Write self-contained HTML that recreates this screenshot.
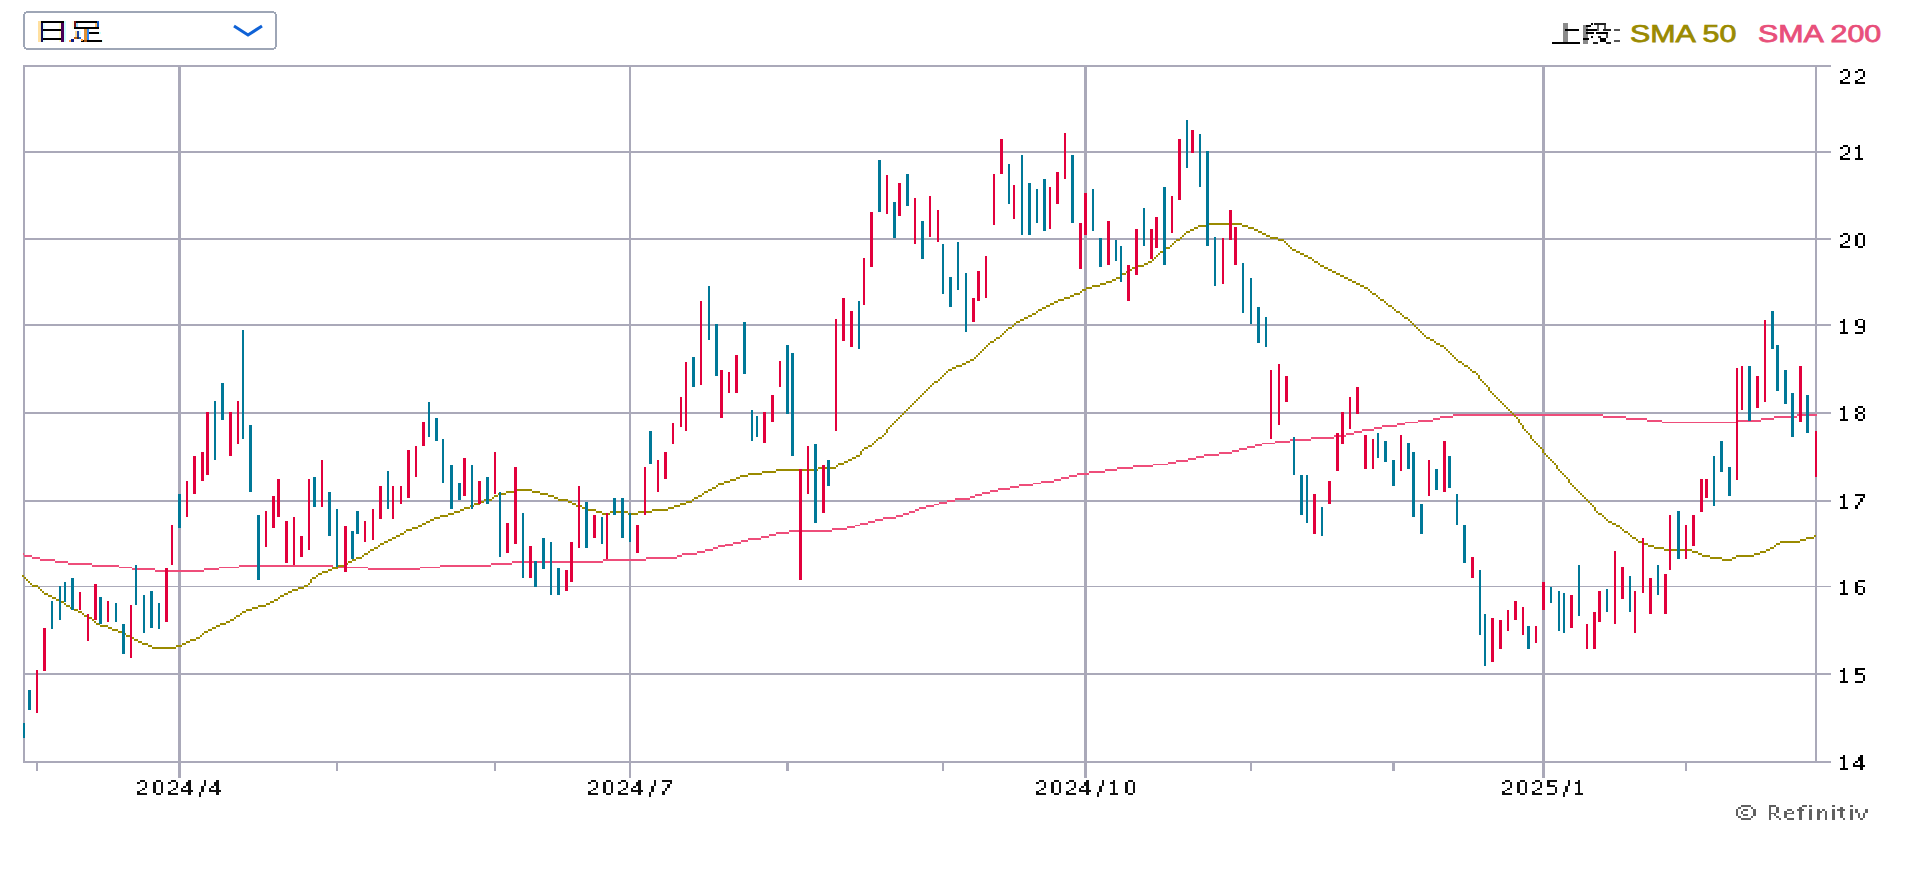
<!DOCTYPE html>
<html><head><meta charset="utf-8">
<style>
html,body{margin:0;padding:0;background:#fff;width:1913px;height:879px;overflow:hidden;}
#c{position:absolute;left:0;top:0;}
.leg{position:absolute;top:19px;font-family:"Liberation Sans",sans-serif;font-weight:normal;-webkit-text-stroke:0.75px currentColor;font-size:23px;line-height:30px;white-space:nowrap;transform-origin:0 0;}
</style></head><body>
<svg id="c" width="1913" height="879" viewBox="0 0 1913 879" shape-rendering="crispEdges">
<rect x="24" y="12" width="252" height="37" rx="4" ry="4" fill="#fff" stroke="#9ea6b6" stroke-width="2"/>
<polyline points="234,26 248,35 262,26" fill="none" stroke="#0f62d6" stroke-width="3" shape-rendering="auto"/>
<rect x="23" y="65" width="1808" height="2" fill="#aaa9b9"/>
<rect x="23" y="151" width="1808" height="2" fill="#aaa9b9"/>
<rect x="23" y="238" width="1808" height="2" fill="#aaa9b9"/>
<rect x="23" y="324" width="1808" height="2" fill="#aaa9b9"/>
<rect x="23" y="412" width="1808" height="2" fill="#aaa9b9"/>
<rect x="23" y="500" width="1808" height="2" fill="#aaa9b9"/>
<rect x="23" y="586" width="1808" height="1" fill="#aaa9b9"/>
<rect x="23" y="673" width="1808" height="2" fill="#aaa9b9"/>
<rect x="23" y="761" width="1808" height="2" fill="#aaa9b9"/>
<rect x="23" y="65" width="2" height="698" fill="#aaa9b9"/>
<rect x="1815" y="65" width="2" height="698" fill="#aaa9b9"/>
<rect x="178" y="65" width="3" height="713" fill="#aaa9b9"/>
<rect x="629" y="65" width="2" height="713" fill="#aaa9b9"/>
<rect x="1084" y="65" width="3" height="713" fill="#aaa9b9"/>
<rect x="1542" y="65" width="3" height="713" fill="#aaa9b9"/>
<rect x="36" y="763" width="2" height="8" fill="#aaa9b9"/>
<rect x="336" y="763" width="2" height="8" fill="#aaa9b9"/>
<rect x="494" y="763" width="2" height="8" fill="#aaa9b9"/>
<rect x="786" y="763" width="3" height="8" fill="#aaa9b9"/>
<rect x="942" y="763" width="2" height="8" fill="#aaa9b9"/>
<rect x="1250" y="763" width="2" height="8" fill="#aaa9b9"/>
<rect x="1392" y="763" width="3" height="8" fill="#aaa9b9"/>
<rect x="1685" y="763" width="2" height="8" fill="#aaa9b9"/>
<g fill="#ee4d7a" fill-opacity="1"><rect x="23" y="553" width="1" height="2"/><rect x="24" y="555" width="8" height="2"/><rect x="32" y="557" width="8" height="2"/><rect x="40" y="559" width="15" height="2"/><rect x="55" y="561" width="13" height="2"/><rect x="68" y="563" width="24" height="2"/><rect x="92" y="565" width="27" height="2"/><rect x="119" y="567" width="13" height="1"/><rect x="132" y="568" width="23" height="2"/><rect x="155" y="570" width="49" height="2"/><rect x="204" y="568" width="15" height="2"/><rect x="219" y="567" width="20" height="1"/><rect x="239" y="565" width="94" height="2"/><rect x="333" y="567" width="35" height="1"/><rect x="368" y="568" width="52" height="2"/><rect x="420" y="567" width="20" height="1"/><rect x="440" y="565" width="51" height="2"/><rect x="491" y="563" width="21" height="2"/><rect x="512" y="561" width="91" height="2"/><rect x="603" y="559" width="43" height="2"/><rect x="646" y="557" width="31" height="2"/><rect x="677" y="555" width="5" height="2"/><rect x="682" y="553" width="15" height="2"/><rect x="697" y="551" width="8" height="2"/><rect x="705" y="549" width="8" height="2"/><rect x="713" y="547" width="5" height="2"/><rect x="718" y="545" width="7" height="2"/><rect x="725" y="544" width="8" height="2"/><rect x="733" y="542" width="8" height="2"/><rect x="741" y="540" width="7" height="2"/><rect x="748" y="538" width="13" height="2"/><rect x="761" y="536" width="8" height="2"/><rect x="769" y="534" width="7" height="2"/><rect x="776" y="532" width="13" height="2"/><rect x="789" y="530" width="43" height="2"/><rect x="832" y="528" width="15" height="2"/><rect x="847" y="526" width="8" height="2"/><rect x="855" y="525" width="5" height="1"/><rect x="860" y="523" width="8" height="2"/><rect x="868" y="521" width="7" height="2"/><rect x="875" y="519" width="8" height="2"/><rect x="883" y="517" width="13" height="2"/><rect x="896" y="515" width="7" height="2"/><rect x="903" y="513" width="6" height="2"/><rect x="909" y="511" width="6" height="2"/><rect x="915" y="509" width="4" height="2"/><rect x="919" y="507" width="7" height="2"/><rect x="926" y="505" width="8" height="2"/><rect x="934" y="504" width="5" height="1"/><rect x="939" y="502" width="8" height="2"/><rect x="947" y="500" width="8" height="2"/><rect x="955" y="498" width="15" height="2"/><rect x="970" y="496" width="5" height="2"/><rect x="975" y="494" width="7" height="2"/><rect x="982" y="492" width="8" height="2"/><rect x="990" y="490" width="8" height="2"/><rect x="998" y="488" width="12" height="2"/><rect x="1010" y="486" width="9" height="2"/><rect x="1019" y="484" width="14" height="2"/><rect x="1033" y="483" width="8" height="1"/><rect x="1041" y="481" width="13" height="2"/><rect x="1054" y="479" width="7" height="2"/><rect x="1061" y="477" width="8" height="2"/><rect x="1069" y="475" width="8" height="2"/><rect x="1077" y="473" width="12" height="2"/><rect x="1089" y="471" width="16" height="2"/><rect x="1105" y="469" width="12" height="2"/><rect x="1117" y="467" width="16" height="2"/><rect x="1133" y="465" width="20" height="2"/><rect x="1153" y="464" width="15" height="1"/><rect x="1168" y="462" width="8" height="2"/><rect x="1176" y="460" width="12" height="2"/><rect x="1188" y="458" width="8" height="2"/><rect x="1196" y="456" width="8" height="2"/><rect x="1204" y="454" width="15" height="2"/><rect x="1219" y="452" width="13" height="2"/><rect x="1232" y="450" width="7" height="2"/><rect x="1239" y="448" width="8" height="2"/><rect x="1247" y="446" width="8" height="2"/><rect x="1255" y="444" width="7" height="2"/><rect x="1262" y="443" width="13" height="1"/><rect x="1275" y="441" width="15" height="2"/><rect x="1290" y="439" width="21" height="2"/><rect x="1311" y="437" width="23" height="2"/><rect x="1334" y="435" width="12" height="2"/><rect x="1346" y="433" width="8" height="2"/><rect x="1354" y="431" width="8" height="2"/><rect x="1362" y="429" width="12" height="2"/><rect x="1374" y="427" width="8" height="2"/><rect x="1382" y="425" width="15" height="2"/><rect x="1397" y="423" width="8" height="2"/><rect x="1405" y="422" width="13" height="1"/><rect x="1418" y="420" width="15" height="2"/><rect x="1433" y="418" width="7" height="2"/><rect x="1440" y="416" width="13" height="2"/><rect x="1453" y="414" width="150" height="2"/><rect x="1603" y="416" width="23" height="2"/><rect x="1626" y="418" width="21" height="2"/><rect x="1647" y="420" width="15" height="2"/><rect x="1662" y="422" width="75" height="1"/><rect x="1737" y="420" width="24" height="2"/><rect x="1761" y="418" width="13" height="2"/><rect x="1774" y="416" width="23" height="2"/><rect x="1797" y="414" width="20" height="2"/></g>
<g fill="#9a8a00" fill-opacity="1"><rect x="22" y="575" width="2" height="2"/><rect x="24" y="577" width="2" height="2"/><rect x="26" y="579" width="2" height="2"/><rect x="28" y="581" width="2" height="2"/><rect x="30" y="583" width="2" height="2"/><rect x="32" y="585" width="6" height="2"/><rect x="38" y="587" width="2" height="2"/><rect x="40" y="589" width="2" height="2"/><rect x="42" y="591" width="2" height="2"/><rect x="44" y="593" width="4" height="2"/><rect x="48" y="595" width="4" height="2"/><rect x="52" y="597" width="4" height="2"/><rect x="56" y="599" width="4" height="2"/><rect x="60" y="601" width="4" height="2"/><rect x="64" y="603" width="2" height="2"/><rect x="66" y="605" width="4" height="2"/><rect x="70" y="607" width="4" height="2"/><rect x="74" y="609" width="4" height="2"/><rect x="78" y="611" width="4" height="2"/><rect x="82" y="613" width="2" height="2"/><rect x="84" y="615" width="4" height="2"/><rect x="88" y="617" width="4" height="2"/><rect x="92" y="619" width="2" height="2"/><rect x="94" y="621" width="2" height="2"/><rect x="96" y="623" width="4" height="2"/><rect x="100" y="625" width="8" height="2"/><rect x="108" y="627" width="4" height="2"/><rect x="112" y="629" width="6" height="2"/><rect x="118" y="631" width="4" height="2"/><rect x="122" y="633" width="4" height="2"/><rect x="126" y="635" width="4" height="2"/><rect x="130" y="637" width="4" height="2"/><rect x="134" y="639" width="4" height="2"/><rect x="138" y="641" width="4" height="2"/><rect x="142" y="643" width="6" height="2"/><rect x="148" y="645" width="4" height="2"/><rect x="152" y="647" width="24" height="2"/><rect x="176" y="645" width="6" height="2"/><rect x="182" y="643" width="4" height="2"/><rect x="186" y="641" width="4" height="2"/><rect x="190" y="639" width="6" height="2"/><rect x="196" y="637" width="4" height="2"/><rect x="200" y="635" width="2" height="2"/><rect x="202" y="633" width="2" height="2"/><rect x="204" y="631" width="4" height="2"/><rect x="208" y="629" width="4" height="2"/><rect x="212" y="627" width="4" height="2"/><rect x="216" y="625" width="4" height="2"/><rect x="220" y="623" width="6" height="2"/><rect x="226" y="621" width="4" height="2"/><rect x="230" y="619" width="4" height="2"/><rect x="234" y="617" width="2" height="2"/><rect x="236" y="615" width="4" height="2"/><rect x="240" y="613" width="2" height="2"/><rect x="242" y="611" width="4" height="2"/><rect x="246" y="609" width="6" height="2"/><rect x="252" y="607" width="6" height="2"/><rect x="258" y="605" width="8" height="2"/><rect x="266" y="603" width="4" height="2"/><rect x="270" y="601" width="4" height="2"/><rect x="274" y="599" width="4" height="2"/><rect x="278" y="597" width="2" height="2"/><rect x="280" y="595" width="4" height="2"/><rect x="284" y="593" width="4" height="2"/><rect x="288" y="591" width="4" height="2"/><rect x="292" y="589" width="6" height="2"/><rect x="298" y="587" width="6" height="2"/><rect x="304" y="585" width="4" height="2"/><rect x="308" y="583" width="2" height="2"/><rect x="310" y="579" width="2" height="4"/><rect x="312" y="577" width="4" height="2"/><rect x="316" y="575" width="2" height="2"/><rect x="318" y="573" width="4" height="2"/><rect x="322" y="571" width="6" height="2"/><rect x="328" y="569" width="4" height="2"/><rect x="332" y="567" width="6" height="2"/><rect x="338" y="565" width="6" height="2"/><rect x="344" y="563" width="4" height="2"/><rect x="348" y="561" width="4" height="2"/><rect x="352" y="559" width="4" height="2"/><rect x="356" y="557" width="6" height="2"/><rect x="362" y="555" width="2" height="2"/><rect x="364" y="553" width="4" height="2"/><rect x="368" y="551" width="2" height="2"/><rect x="370" y="549" width="4" height="2"/><rect x="374" y="547" width="4" height="2"/><rect x="378" y="545" width="2" height="2"/><rect x="380" y="543" width="4" height="2"/><rect x="384" y="541" width="4" height="2"/><rect x="388" y="539" width="4" height="2"/><rect x="392" y="537" width="4" height="2"/><rect x="396" y="535" width="4" height="2"/><rect x="400" y="533" width="4" height="2"/><rect x="404" y="531" width="2" height="2"/><rect x="406" y="529" width="6" height="2"/><rect x="412" y="527" width="6" height="2"/><rect x="418" y="525" width="4" height="2"/><rect x="422" y="523" width="4" height="2"/><rect x="426" y="521" width="4" height="2"/><rect x="430" y="519" width="4" height="2"/><rect x="434" y="517" width="6" height="2"/><rect x="440" y="515" width="8" height="2"/><rect x="448" y="513" width="6" height="2"/><rect x="454" y="511" width="6" height="2"/><rect x="460" y="509" width="4" height="2"/><rect x="464" y="507" width="6" height="2"/><rect x="470" y="505" width="4" height="2"/><rect x="474" y="503" width="6" height="2"/><rect x="480" y="501" width="4" height="2"/><rect x="484" y="499" width="8" height="2"/><rect x="492" y="497" width="2" height="2"/><rect x="494" y="495" width="4" height="2"/><rect x="498" y="493" width="8" height="2"/><rect x="506" y="491" width="10" height="2"/><rect x="516" y="489" width="16" height="2"/><rect x="532" y="491" width="8" height="2"/><rect x="540" y="493" width="8" height="2"/><rect x="548" y="495" width="6" height="2"/><rect x="554" y="497" width="4" height="2"/><rect x="558" y="499" width="10" height="2"/><rect x="568" y="501" width="4" height="2"/><rect x="572" y="503" width="4" height="2"/><rect x="576" y="505" width="6" height="2"/><rect x="582" y="507" width="6" height="2"/><rect x="588" y="509" width="8" height="2"/><rect x="596" y="511" width="6" height="2"/><rect x="602" y="513" width="8" height="2"/><rect x="610" y="511" width="18" height="2"/><rect x="628" y="513" width="10" height="2"/><rect x="638" y="511" width="14" height="2"/><rect x="652" y="509" width="16" height="2"/><rect x="668" y="507" width="6" height="2"/><rect x="674" y="505" width="6" height="2"/><rect x="680" y="503" width="6" height="2"/><rect x="686" y="501" width="6" height="2"/><rect x="692" y="499" width="2" height="2"/><rect x="694" y="497" width="4" height="2"/><rect x="698" y="495" width="4" height="2"/><rect x="702" y="493" width="2" height="2"/><rect x="704" y="491" width="4" height="2"/><rect x="708" y="489" width="4" height="2"/><rect x="712" y="487" width="4" height="2"/><rect x="716" y="485" width="2" height="2"/><rect x="718" y="483" width="6" height="2"/><rect x="724" y="481" width="6" height="2"/><rect x="730" y="479" width="6" height="2"/><rect x="736" y="477" width="4" height="2"/><rect x="740" y="475" width="8" height="2"/><rect x="748" y="473" width="14" height="2"/><rect x="762" y="471" width="14" height="2"/><rect x="776" y="469" width="42" height="2"/><rect x="818" y="467" width="18" height="2"/><rect x="836" y="465" width="2" height="2"/><rect x="838" y="463" width="6" height="2"/><rect x="844" y="461" width="4" height="2"/><rect x="848" y="459" width="4" height="2"/><rect x="852" y="457" width="4" height="2"/><rect x="856" y="455" width="4" height="2"/><rect x="860" y="451" width="2" height="4"/><rect x="862" y="449" width="2" height="2"/><rect x="864" y="447" width="4" height="2"/><rect x="868" y="445" width="4" height="2"/><rect x="872" y="443" width="2" height="2"/><rect x="874" y="441" width="2" height="2"/><rect x="876" y="439" width="2" height="2"/><rect x="878" y="437" width="4" height="2"/><rect x="882" y="435" width="2" height="2"/><rect x="884" y="433" width="2" height="2"/><rect x="886" y="429" width="2" height="4"/><rect x="888" y="427" width="2" height="2"/><rect x="890" y="425" width="2" height="2"/><rect x="892" y="423" width="2" height="2"/><rect x="894" y="421" width="2" height="2"/><rect x="896" y="419" width="2" height="2"/><rect x="898" y="417" width="2" height="2"/><rect x="900" y="415" width="2" height="2"/><rect x="902" y="413" width="2" height="2"/><rect x="904" y="411" width="2" height="2"/><rect x="906" y="409" width="2" height="2"/><rect x="908" y="407" width="2" height="2"/><rect x="910" y="405" width="2" height="2"/><rect x="912" y="403" width="2" height="2"/><rect x="914" y="401" width="2" height="2"/><rect x="916" y="399" width="2" height="2"/><rect x="918" y="397" width="2" height="2"/><rect x="920" y="395" width="2" height="2"/><rect x="922" y="393" width="2" height="2"/><rect x="924" y="391" width="2" height="2"/><rect x="926" y="389" width="2" height="2"/><rect x="928" y="387" width="2" height="2"/><rect x="930" y="385" width="2" height="2"/><rect x="932" y="383" width="2" height="2"/><rect x="934" y="381" width="4" height="2"/><rect x="938" y="379" width="2" height="2"/><rect x="940" y="377" width="2" height="2"/><rect x="942" y="375" width="2" height="2"/><rect x="944" y="373" width="2" height="2"/><rect x="946" y="371" width="2" height="2"/><rect x="948" y="369" width="4" height="2"/><rect x="952" y="367" width="4" height="2"/><rect x="956" y="365" width="6" height="2"/><rect x="962" y="363" width="4" height="2"/><rect x="966" y="361" width="4" height="2"/><rect x="970" y="359" width="4" height="2"/><rect x="974" y="357" width="2" height="2"/><rect x="976" y="355" width="2" height="2"/><rect x="978" y="353" width="2" height="2"/><rect x="980" y="351" width="2" height="2"/><rect x="982" y="349" width="2" height="2"/><rect x="984" y="347" width="2" height="2"/><rect x="986" y="345" width="2" height="2"/><rect x="988" y="343" width="2" height="2"/><rect x="990" y="341" width="4" height="2"/><rect x="994" y="339" width="2" height="2"/><rect x="996" y="337" width="4" height="2"/><rect x="1000" y="335" width="2" height="2"/><rect x="1002" y="333" width="2" height="2"/><rect x="1004" y="331" width="2" height="2"/><rect x="1006" y="329" width="2" height="2"/><rect x="1008" y="327" width="4" height="2"/><rect x="1012" y="325" width="2" height="2"/><rect x="1014" y="323" width="2" height="2"/><rect x="1016" y="321" width="4" height="2"/><rect x="1020" y="319" width="4" height="2"/><rect x="1024" y="317" width="4" height="2"/><rect x="1028" y="315" width="4" height="2"/><rect x="1032" y="313" width="4" height="2"/><rect x="1036" y="311" width="2" height="2"/><rect x="1038" y="309" width="4" height="2"/><rect x="1042" y="307" width="4" height="2"/><rect x="1046" y="305" width="4" height="2"/><rect x="1050" y="303" width="4" height="2"/><rect x="1054" y="301" width="4" height="2"/><rect x="1058" y="299" width="6" height="2"/><rect x="1064" y="297" width="6" height="2"/><rect x="1070" y="295" width="4" height="2"/><rect x="1074" y="293" width="6" height="2"/><rect x="1080" y="291" width="2" height="2"/><rect x="1082" y="289" width="4" height="2"/><rect x="1086" y="287" width="6" height="2"/><rect x="1092" y="285" width="8" height="2"/><rect x="1100" y="283" width="6" height="2"/><rect x="1106" y="281" width="6" height="2"/><rect x="1112" y="279" width="4" height="2"/><rect x="1116" y="277" width="4" height="2"/><rect x="1120" y="275" width="2" height="2"/><rect x="1122" y="273" width="4" height="2"/><rect x="1126" y="271" width="2" height="2"/><rect x="1128" y="269" width="4" height="2"/><rect x="1132" y="267" width="6" height="2"/><rect x="1138" y="265" width="6" height="2"/><rect x="1144" y="263" width="4" height="2"/><rect x="1148" y="261" width="4" height="2"/><rect x="1152" y="259" width="2" height="2"/><rect x="1154" y="257" width="2" height="2"/><rect x="1156" y="255" width="2" height="2"/><rect x="1158" y="253" width="2" height="2"/><rect x="1160" y="251" width="4" height="2"/><rect x="1164" y="249" width="2" height="2"/><rect x="1166" y="247" width="4" height="2"/><rect x="1170" y="245" width="2" height="2"/><rect x="1172" y="243" width="2" height="2"/><rect x="1174" y="241" width="2" height="2"/><rect x="1176" y="239" width="4" height="2"/><rect x="1180" y="237" width="2" height="2"/><rect x="1182" y="235" width="2" height="2"/><rect x="1184" y="233" width="2" height="2"/><rect x="1186" y="231" width="4" height="2"/><rect x="1190" y="229" width="4" height="2"/><rect x="1194" y="227" width="4" height="2"/><rect x="1198" y="225" width="8" height="2"/><rect x="1206" y="223" width="36" height="2"/><rect x="1242" y="225" width="6" height="2"/><rect x="1248" y="227" width="6" height="2"/><rect x="1254" y="229" width="4" height="2"/><rect x="1258" y="231" width="4" height="2"/><rect x="1262" y="233" width="4" height="2"/><rect x="1266" y="235" width="4" height="2"/><rect x="1270" y="237" width="8" height="2"/><rect x="1278" y="239" width="6" height="2"/><rect x="1284" y="241" width="2" height="2"/><rect x="1286" y="243" width="2" height="2"/><rect x="1288" y="245" width="2" height="2"/><rect x="1290" y="247" width="2" height="2"/><rect x="1292" y="249" width="4" height="2"/><rect x="1296" y="251" width="4" height="2"/><rect x="1300" y="253" width="4" height="2"/><rect x="1304" y="255" width="4" height="2"/><rect x="1308" y="257" width="4" height="2"/><rect x="1312" y="259" width="2" height="2"/><rect x="1314" y="261" width="4" height="2"/><rect x="1318" y="263" width="2" height="2"/><rect x="1320" y="265" width="4" height="2"/><rect x="1324" y="267" width="4" height="2"/><rect x="1328" y="269" width="4" height="2"/><rect x="1332" y="271" width="4" height="2"/><rect x="1336" y="273" width="4" height="2"/><rect x="1340" y="275" width="4" height="2"/><rect x="1344" y="277" width="4" height="2"/><rect x="1348" y="279" width="4" height="2"/><rect x="1352" y="281" width="4" height="2"/><rect x="1356" y="283" width="4" height="2"/><rect x="1360" y="285" width="4" height="2"/><rect x="1364" y="287" width="4" height="2"/><rect x="1368" y="289" width="2" height="2"/><rect x="1370" y="291" width="2" height="2"/><rect x="1372" y="293" width="4" height="2"/><rect x="1376" y="295" width="2" height="2"/><rect x="1378" y="297" width="2" height="2"/><rect x="1380" y="299" width="4" height="2"/><rect x="1384" y="301" width="2" height="2"/><rect x="1386" y="303" width="2" height="2"/><rect x="1388" y="305" width="4" height="2"/><rect x="1392" y="307" width="2" height="2"/><rect x="1394" y="309" width="2" height="2"/><rect x="1396" y="311" width="4" height="2"/><rect x="1400" y="313" width="2" height="2"/><rect x="1402" y="315" width="2" height="2"/><rect x="1404" y="317" width="4" height="2"/><rect x="1408" y="319" width="2" height="2"/><rect x="1410" y="321" width="2" height="2"/><rect x="1412" y="323" width="2" height="2"/><rect x="1414" y="325" width="2" height="2"/><rect x="1416" y="327" width="2" height="2"/><rect x="1418" y="329" width="2" height="2"/><rect x="1420" y="331" width="2" height="2"/><rect x="1422" y="333" width="2" height="2"/><rect x="1424" y="335" width="2" height="2"/><rect x="1426" y="337" width="4" height="2"/><rect x="1430" y="339" width="4" height="2"/><rect x="1434" y="341" width="2" height="2"/><rect x="1436" y="343" width="4" height="2"/><rect x="1440" y="345" width="4" height="2"/><rect x="1444" y="347" width="2" height="2"/><rect x="1446" y="349" width="2" height="2"/><rect x="1448" y="351" width="2" height="2"/><rect x="1450" y="353" width="2" height="2"/><rect x="1452" y="355" width="2" height="2"/><rect x="1454" y="357" width="2" height="2"/><rect x="1456" y="359" width="2" height="2"/><rect x="1458" y="361" width="4" height="2"/><rect x="1462" y="363" width="2" height="2"/><rect x="1464" y="365" width="4" height="2"/><rect x="1468" y="367" width="2" height="2"/><rect x="1470" y="369" width="2" height="2"/><rect x="1472" y="371" width="4" height="2"/><rect x="1476" y="373" width="2" height="2"/><rect x="1478" y="375" width="2" height="4"/><rect x="1480" y="379" width="2" height="2"/><rect x="1482" y="381" width="2" height="2"/><rect x="1484" y="383" width="2" height="2"/><rect x="1486" y="385" width="2" height="2"/><rect x="1488" y="387" width="2" height="4"/><rect x="1490" y="391" width="2" height="2"/><rect x="1492" y="393" width="2" height="2"/><rect x="1494" y="395" width="2" height="2"/><rect x="1496" y="397" width="2" height="2"/><rect x="1498" y="399" width="2" height="2"/><rect x="1500" y="401" width="2" height="2"/><rect x="1502" y="403" width="2" height="2"/><rect x="1504" y="405" width="2" height="2"/><rect x="1506" y="407" width="2" height="2"/><rect x="1508" y="409" width="2" height="2"/><rect x="1510" y="411" width="2" height="2"/><rect x="1512" y="413" width="2" height="2"/><rect x="1514" y="415" width="2" height="2"/><rect x="1516" y="417" width="2" height="2"/><rect x="1518" y="419" width="2" height="4"/><rect x="1520" y="423" width="2" height="2"/><rect x="1522" y="425" width="2" height="4"/><rect x="1524" y="429" width="2" height="2"/><rect x="1526" y="431" width="2" height="2"/><rect x="1528" y="433" width="2" height="2"/><rect x="1530" y="435" width="2" height="4"/><rect x="1532" y="439" width="2" height="2"/><rect x="1534" y="441" width="2" height="2"/><rect x="1536" y="443" width="2" height="2"/><rect x="1538" y="445" width="2" height="2"/><rect x="1540" y="447" width="2" height="2"/><rect x="1542" y="449" width="2" height="4"/><rect x="1544" y="453" width="2" height="2"/><rect x="1546" y="455" width="2" height="2"/><rect x="1548" y="457" width="2" height="2"/><rect x="1550" y="459" width="2" height="2"/><rect x="1552" y="461" width="2" height="2"/><rect x="1554" y="463" width="2" height="2"/><rect x="1556" y="465" width="2" height="4"/><rect x="1558" y="469" width="2" height="2"/><rect x="1560" y="471" width="2" height="2"/><rect x="1562" y="473" width="2" height="2"/><rect x="1564" y="475" width="2" height="2"/><rect x="1566" y="477" width="2" height="2"/><rect x="1568" y="479" width="2" height="4"/><rect x="1570" y="483" width="2" height="2"/><rect x="1572" y="485" width="2" height="2"/><rect x="1574" y="487" width="2" height="2"/><rect x="1576" y="489" width="2" height="2"/><rect x="1578" y="491" width="2" height="2"/><rect x="1580" y="493" width="2" height="2"/><rect x="1582" y="495" width="2" height="2"/><rect x="1584" y="497" width="2" height="2"/><rect x="1586" y="499" width="2" height="2"/><rect x="1588" y="501" width="2" height="2"/><rect x="1590" y="503" width="2" height="2"/><rect x="1592" y="505" width="2" height="2"/><rect x="1594" y="507" width="2" height="4"/><rect x="1596" y="511" width="2" height="2"/><rect x="1598" y="513" width="4" height="2"/><rect x="1602" y="515" width="2" height="2"/><rect x="1604" y="517" width="2" height="2"/><rect x="1606" y="519" width="2" height="2"/><rect x="1608" y="521" width="4" height="2"/><rect x="1612" y="523" width="4" height="2"/><rect x="1616" y="525" width="4" height="2"/><rect x="1620" y="527" width="2" height="2"/><rect x="1622" y="529" width="2" height="2"/><rect x="1624" y="531" width="4" height="2"/><rect x="1628" y="533" width="2" height="2"/><rect x="1630" y="535" width="2" height="2"/><rect x="1632" y="537" width="4" height="2"/><rect x="1636" y="539" width="2" height="2"/><rect x="1638" y="541" width="6" height="2"/><rect x="1644" y="543" width="4" height="2"/><rect x="1648" y="545" width="6" height="2"/><rect x="1654" y="547" width="10" height="2"/><rect x="1664" y="549" width="28" height="2"/><rect x="1692" y="551" width="6" height="2"/><rect x="1698" y="553" width="4" height="2"/><rect x="1702" y="555" width="8" height="2"/><rect x="1710" y="557" width="12" height="2"/><rect x="1722" y="559" width="10" height="2"/><rect x="1732" y="557" width="4" height="2"/><rect x="1736" y="555" width="18" height="2"/><rect x="1754" y="553" width="6" height="2"/><rect x="1760" y="551" width="6" height="2"/><rect x="1766" y="549" width="4" height="2"/><rect x="1770" y="547" width="4" height="2"/><rect x="1774" y="545" width="2" height="2"/><rect x="1776" y="543" width="4" height="2"/><rect x="1780" y="541" width="20" height="2"/><rect x="1800" y="539" width="6" height="2"/><rect x="1806" y="537" width="8" height="2"/><rect x="1814" y="535" width="2" height="2"/></g>
<rect x="23" y="723" width="2" height="15" fill="#007898"/>
<rect x="28" y="690" width="3" height="20" fill="#007898"/>
<rect x="36" y="670" width="2" height="43" fill="#e2003c"/>
<rect x="43" y="628" width="3" height="43" fill="#e2003c"/>
<rect x="51" y="601" width="2" height="28" fill="#007898"/>
<rect x="59" y="586" width="2" height="34" fill="#007898"/>
<rect x="64" y="582" width="2" height="20" fill="#007898"/>
<rect x="71" y="578" width="3" height="32" fill="#007898"/>
<rect x="79" y="592" width="2" height="18" fill="#e2003c"/>
<rect x="87" y="614" width="2" height="27" fill="#e2003c"/>
<rect x="94" y="584" width="3" height="36" fill="#e2003c"/>
<rect x="99" y="597" width="3" height="27" fill="#007898"/>
<rect x="107" y="601" width="2" height="21" fill="#e2003c"/>
<rect x="115" y="603" width="2" height="19" fill="#007898"/>
<rect x="122" y="624" width="3" height="30" fill="#007898"/>
<rect x="130" y="605" width="2" height="53" fill="#e2003c"/>
<rect x="135" y="565" width="2" height="40" fill="#007898"/>
<rect x="143" y="595" width="2" height="38" fill="#007898"/>
<rect x="150" y="591" width="3" height="37" fill="#007898"/>
<rect x="158" y="603" width="2" height="26" fill="#007898"/>
<rect x="165" y="568" width="3" height="54" fill="#e2003c"/>
<rect x="171" y="525" width="2" height="40" fill="#e2003c"/>
<rect x="178" y="494" width="3" height="34" fill="#007898"/>
<rect x="186" y="481" width="2" height="36" fill="#e2003c"/>
<rect x="193" y="456" width="3" height="38" fill="#e2003c"/>
<rect x="201" y="452" width="3" height="29" fill="#e2003c"/>
<rect x="206" y="412" width="3" height="63" fill="#e2003c"/>
<rect x="214" y="401" width="2" height="59" fill="#007898"/>
<rect x="221" y="383" width="3" height="37" fill="#007898"/>
<rect x="229" y="412" width="3" height="44" fill="#e2003c"/>
<rect x="237" y="401" width="2" height="43" fill="#e2003c"/>
<rect x="242" y="330" width="2" height="109" fill="#007898"/>
<rect x="249" y="425" width="3" height="67" fill="#007898"/>
<rect x="257" y="515" width="3" height="65" fill="#007898"/>
<rect x="265" y="511" width="2" height="36" fill="#e2003c"/>
<rect x="272" y="496" width="3" height="32" fill="#e2003c"/>
<rect x="277" y="479" width="3" height="38" fill="#e2003c"/>
<rect x="285" y="521" width="3" height="42" fill="#e2003c"/>
<rect x="293" y="517" width="2" height="48" fill="#e2003c"/>
<rect x="300" y="536" width="3" height="21" fill="#e2003c"/>
<rect x="308" y="479" width="2" height="71" fill="#e2003c"/>
<rect x="313" y="477" width="3" height="30" fill="#007898"/>
<rect x="321" y="460" width="2" height="47" fill="#e2003c"/>
<rect x="328" y="492" width="3" height="44" fill="#007898"/>
<rect x="336" y="509" width="2" height="58" fill="#007898"/>
<rect x="344" y="526" width="3" height="46" fill="#e2003c"/>
<rect x="351" y="531" width="3" height="28" fill="#007898"/>
<rect x="356" y="511" width="3" height="23" fill="#007898"/>
<rect x="364" y="521" width="2" height="21" fill="#e2003c"/>
<rect x="372" y="509" width="2" height="31" fill="#e2003c"/>
<rect x="379" y="486" width="3" height="33" fill="#e2003c"/>
<rect x="387" y="471" width="2" height="38" fill="#007898"/>
<rect x="392" y="486" width="2" height="33" fill="#e2003c"/>
<rect x="400" y="486" width="2" height="18" fill="#e2003c"/>
<rect x="407" y="450" width="3" height="48" fill="#e2003c"/>
<rect x="415" y="446" width="2" height="31" fill="#e2003c"/>
<rect x="422" y="422" width="3" height="24" fill="#e2003c"/>
<rect x="428" y="402" width="2" height="35" fill="#007898"/>
<rect x="435" y="418" width="3" height="23" fill="#007898"/>
<rect x="442" y="439" width="2" height="44" fill="#007898"/>
<rect x="450" y="465" width="3" height="44" fill="#007898"/>
<rect x="458" y="483" width="3" height="17" fill="#007898"/>
<rect x="463" y="458" width="3" height="38" fill="#e2003c"/>
<rect x="471" y="465" width="2" height="44" fill="#007898"/>
<rect x="478" y="481" width="3" height="23" fill="#e2003c"/>
<rect x="486" y="477" width="3" height="27" fill="#007898"/>
<rect x="494" y="452" width="2" height="42" fill="#e2003c"/>
<rect x="499" y="492" width="2" height="65" fill="#007898"/>
<rect x="506" y="523" width="3" height="30" fill="#e2003c"/>
<rect x="514" y="467" width="3" height="77" fill="#e2003c"/>
<rect x="522" y="513" width="2" height="65" fill="#007898"/>
<rect x="529" y="546" width="3" height="32" fill="#e2003c"/>
<rect x="534" y="561" width="3" height="26" fill="#007898"/>
<rect x="542" y="538" width="3" height="31" fill="#007898"/>
<rect x="550" y="542" width="2" height="53" fill="#007898"/>
<rect x="557" y="568" width="3" height="27" fill="#007898"/>
<rect x="565" y="570" width="3" height="21" fill="#e2003c"/>
<rect x="570" y="542" width="3" height="40" fill="#e2003c"/>
<rect x="578" y="486" width="2" height="62" fill="#e2003c"/>
<rect x="585" y="502" width="3" height="46" fill="#007898"/>
<rect x="593" y="515" width="3" height="23" fill="#e2003c"/>
<rect x="601" y="517" width="2" height="27" fill="#007898"/>
<rect x="606" y="513" width="2" height="46" fill="#e2003c"/>
<rect x="613" y="498" width="3" height="17" fill="#007898"/>
<rect x="621" y="498" width="3" height="40" fill="#007898"/>
<rect x="629" y="513" width="2" height="29" fill="#007898"/>
<rect x="636" y="525" width="3" height="28" fill="#e2003c"/>
<rect x="644" y="467" width="2" height="48" fill="#e2003c"/>
<rect x="649" y="431" width="3" height="33" fill="#007898"/>
<rect x="657" y="460" width="2" height="32" fill="#e2003c"/>
<rect x="664" y="452" width="3" height="27" fill="#e2003c"/>
<rect x="672" y="423" width="2" height="21" fill="#e2003c"/>
<rect x="680" y="397" width="2" height="30" fill="#e2003c"/>
<rect x="685" y="362" width="2" height="69" fill="#e2003c"/>
<rect x="692" y="357" width="3" height="30" fill="#007898"/>
<rect x="700" y="301" width="2" height="84" fill="#e2003c"/>
<rect x="708" y="286" width="2" height="54" fill="#007898"/>
<rect x="715" y="324" width="3" height="52" fill="#007898"/>
<rect x="720" y="370" width="3" height="48" fill="#e2003c"/>
<rect x="728" y="372" width="2" height="21" fill="#e2003c"/>
<rect x="735" y="355" width="3" height="38" fill="#e2003c"/>
<rect x="743" y="322" width="3" height="52" fill="#007898"/>
<rect x="751" y="410" width="2" height="31" fill="#007898"/>
<rect x="756" y="416" width="2" height="21" fill="#007898"/>
<rect x="763" y="412" width="3" height="31" fill="#e2003c"/>
<rect x="771" y="395" width="3" height="27" fill="#e2003c"/>
<rect x="779" y="361" width="2" height="26" fill="#e2003c"/>
<rect x="786" y="345" width="3" height="69" fill="#007898"/>
<rect x="791" y="353" width="3" height="103" fill="#007898"/>
<rect x="799" y="469" width="3" height="111" fill="#e2003c"/>
<rect x="807" y="446" width="2" height="48" fill="#e2003c"/>
<rect x="814" y="444" width="3" height="79" fill="#007898"/>
<rect x="822" y="465" width="3" height="48" fill="#e2003c"/>
<rect x="827" y="460" width="3" height="26" fill="#007898"/>
<rect x="835" y="319" width="2" height="112" fill="#e2003c"/>
<rect x="842" y="298" width="3" height="43" fill="#e2003c"/>
<rect x="850" y="311" width="3" height="36" fill="#e2003c"/>
<rect x="858" y="301" width="2" height="48" fill="#007898"/>
<rect x="863" y="258" width="2" height="47" fill="#e2003c"/>
<rect x="870" y="212" width="3" height="55" fill="#e2003c"/>
<rect x="878" y="160" width="3" height="52" fill="#007898"/>
<rect x="886" y="175" width="2" height="39" fill="#e2003c"/>
<rect x="893" y="202" width="3" height="36" fill="#007898"/>
<rect x="898" y="183" width="3" height="33" fill="#e2003c"/>
<rect x="906" y="174" width="3" height="32" fill="#007898"/>
<rect x="914" y="198" width="2" height="46" fill="#e2003c"/>
<rect x="921" y="221" width="3" height="38" fill="#007898"/>
<rect x="929" y="196" width="2" height="41" fill="#e2003c"/>
<rect x="937" y="210" width="2" height="32" fill="#e2003c"/>
<rect x="942" y="244" width="2" height="50" fill="#007898"/>
<rect x="949" y="277" width="3" height="30" fill="#007898"/>
<rect x="957" y="242" width="2" height="48" fill="#007898"/>
<rect x="965" y="273" width="2" height="59" fill="#007898"/>
<rect x="972" y="298" width="3" height="24" fill="#e2003c"/>
<rect x="977" y="271" width="3" height="30" fill="#e2003c"/>
<rect x="985" y="256" width="2" height="42" fill="#e2003c"/>
<rect x="993" y="174" width="2" height="51" fill="#e2003c"/>
<rect x="1000" y="139" width="3" height="35" fill="#e2003c"/>
<rect x="1008" y="164" width="2" height="40" fill="#007898"/>
<rect x="1013" y="185" width="2" height="34" fill="#e2003c"/>
<rect x="1021" y="155" width="2" height="80" fill="#007898"/>
<rect x="1028" y="183" width="3" height="52" fill="#007898"/>
<rect x="1036" y="189" width="2" height="34" fill="#007898"/>
<rect x="1043" y="179" width="3" height="52" fill="#007898"/>
<rect x="1049" y="187" width="2" height="42" fill="#e2003c"/>
<rect x="1056" y="172" width="3" height="32" fill="#e2003c"/>
<rect x="1064" y="133" width="2" height="46" fill="#e2003c"/>
<rect x="1071" y="155" width="3" height="68" fill="#007898"/>
<rect x="1079" y="223" width="3" height="46" fill="#e2003c"/>
<rect x="1084" y="193" width="3" height="42" fill="#e2003c"/>
<rect x="1092" y="189" width="2" height="42" fill="#007898"/>
<rect x="1099" y="238" width="3" height="29" fill="#007898"/>
<rect x="1107" y="221" width="3" height="44" fill="#e2003c"/>
<rect x="1115" y="240" width="2" height="21" fill="#007898"/>
<rect x="1120" y="246" width="2" height="36" fill="#007898"/>
<rect x="1127" y="265" width="3" height="36" fill="#e2003c"/>
<rect x="1135" y="229" width="3" height="46" fill="#e2003c"/>
<rect x="1143" y="208" width="2" height="38" fill="#007898"/>
<rect x="1150" y="229" width="3" height="30" fill="#e2003c"/>
<rect x="1155" y="217" width="3" height="31" fill="#e2003c"/>
<rect x="1163" y="187" width="3" height="78" fill="#007898"/>
<rect x="1171" y="196" width="2" height="37" fill="#e2003c"/>
<rect x="1178" y="139" width="3" height="61" fill="#e2003c"/>
<rect x="1186" y="120" width="2" height="48" fill="#007898"/>
<rect x="1191" y="130" width="3" height="23" fill="#e2003c"/>
<rect x="1199" y="134" width="2" height="53" fill="#007898"/>
<rect x="1206" y="151" width="3" height="95" fill="#007898"/>
<rect x="1214" y="237" width="2" height="49" fill="#007898"/>
<rect x="1222" y="238" width="2" height="46" fill="#e2003c"/>
<rect x="1229" y="210" width="3" height="30" fill="#e2003c"/>
<rect x="1234" y="227" width="3" height="38" fill="#e2003c"/>
<rect x="1242" y="263" width="2" height="50" fill="#007898"/>
<rect x="1250" y="278" width="2" height="46" fill="#007898"/>
<rect x="1257" y="307" width="3" height="36" fill="#007898"/>
<rect x="1265" y="317" width="2" height="30" fill="#007898"/>
<rect x="1270" y="370" width="2" height="69" fill="#e2003c"/>
<rect x="1278" y="364" width="2" height="61" fill="#e2003c"/>
<rect x="1285" y="376" width="3" height="26" fill="#e2003c"/>
<rect x="1293" y="437" width="2" height="38" fill="#007898"/>
<rect x="1300" y="475" width="3" height="40" fill="#007898"/>
<rect x="1306" y="475" width="2" height="48" fill="#007898"/>
<rect x="1313" y="494" width="3" height="40" fill="#e2003c"/>
<rect x="1321" y="507" width="2" height="29" fill="#007898"/>
<rect x="1328" y="481" width="3" height="23" fill="#e2003c"/>
<rect x="1336" y="433" width="3" height="38" fill="#e2003c"/>
<rect x="1341" y="412" width="3" height="32" fill="#e2003c"/>
<rect x="1349" y="397" width="2" height="32" fill="#e2003c"/>
<rect x="1356" y="387" width="3" height="27" fill="#e2003c"/>
<rect x="1364" y="435" width="3" height="34" fill="#e2003c"/>
<rect x="1372" y="439" width="2" height="30" fill="#e2003c"/>
<rect x="1377" y="433" width="2" height="25" fill="#007898"/>
<rect x="1384" y="441" width="3" height="21" fill="#007898"/>
<rect x="1392" y="460" width="3" height="26" fill="#007898"/>
<rect x="1400" y="435" width="2" height="36" fill="#e2003c"/>
<rect x="1407" y="443" width="3" height="26" fill="#007898"/>
<rect x="1412" y="452" width="3" height="65" fill="#007898"/>
<rect x="1420" y="504" width="3" height="30" fill="#007898"/>
<rect x="1428" y="460" width="2" height="36" fill="#e2003c"/>
<rect x="1435" y="469" width="3" height="21" fill="#007898"/>
<rect x="1443" y="441" width="3" height="51" fill="#e2003c"/>
<rect x="1448" y="456" width="3" height="32" fill="#007898"/>
<rect x="1456" y="494" width="2" height="31" fill="#007898"/>
<rect x="1463" y="525" width="3" height="38" fill="#007898"/>
<rect x="1471" y="557" width="3" height="21" fill="#e2003c"/>
<rect x="1479" y="570" width="2" height="65" fill="#007898"/>
<rect x="1484" y="614" width="2" height="52" fill="#007898"/>
<rect x="1491" y="618" width="3" height="44" fill="#e2003c"/>
<rect x="1499" y="620" width="3" height="29" fill="#e2003c"/>
<rect x="1507" y="610" width="2" height="21" fill="#e2003c"/>
<rect x="1514" y="601" width="3" height="19" fill="#e2003c"/>
<rect x="1522" y="607" width="2" height="28" fill="#e2003c"/>
<rect x="1527" y="626" width="3" height="23" fill="#007898"/>
<rect x="1535" y="626" width="2" height="17" fill="#e2003c"/>
<rect x="1542" y="582" width="3" height="28" fill="#e2003c"/>
<rect x="1550" y="587" width="2" height="16" fill="#007898"/>
<rect x="1558" y="591" width="2" height="40" fill="#007898"/>
<rect x="1563" y="593" width="2" height="40" fill="#007898"/>
<rect x="1570" y="595" width="3" height="33" fill="#e2003c"/>
<rect x="1578" y="565" width="2" height="51" fill="#007898"/>
<rect x="1586" y="624" width="2" height="25" fill="#e2003c"/>
<rect x="1593" y="612" width="3" height="37" fill="#e2003c"/>
<rect x="1598" y="591" width="3" height="31" fill="#e2003c"/>
<rect x="1606" y="589" width="2" height="23" fill="#007898"/>
<rect x="1614" y="551" width="2" height="73" fill="#e2003c"/>
<rect x="1621" y="567" width="3" height="32" fill="#e2003c"/>
<rect x="1629" y="576" width="2" height="36" fill="#007898"/>
<rect x="1634" y="591" width="2" height="42" fill="#e2003c"/>
<rect x="1642" y="538" width="2" height="55" fill="#e2003c"/>
<rect x="1649" y="578" width="3" height="36" fill="#e2003c"/>
<rect x="1657" y="565" width="2" height="30" fill="#007898"/>
<rect x="1664" y="574" width="3" height="40" fill="#e2003c"/>
<rect x="1669" y="515" width="2" height="55" fill="#e2003c"/>
<rect x="1677" y="511" width="3" height="48" fill="#007898"/>
<rect x="1685" y="525" width="2" height="34" fill="#e2003c"/>
<rect x="1692" y="515" width="3" height="31" fill="#e2003c"/>
<rect x="1700" y="479" width="3" height="33" fill="#e2003c"/>
<rect x="1705" y="479" width="3" height="19" fill="#e2003c"/>
<rect x="1713" y="456" width="2" height="50" fill="#007898"/>
<rect x="1720" y="441" width="3" height="31" fill="#007898"/>
<rect x="1728" y="467" width="3" height="29" fill="#007898"/>
<rect x="1736" y="368" width="2" height="112" fill="#e2003c"/>
<rect x="1741" y="366" width="2" height="44" fill="#e2003c"/>
<rect x="1748" y="366" width="3" height="55" fill="#007898"/>
<rect x="1756" y="376" width="3" height="32" fill="#e2003c"/>
<rect x="1764" y="320" width="2" height="82" fill="#e2003c"/>
<rect x="1771" y="311" width="3" height="38" fill="#007898"/>
<rect x="1776" y="345" width="3" height="46" fill="#007898"/>
<rect x="1784" y="370" width="3" height="34" fill="#007898"/>
<rect x="1791" y="393" width="3" height="44" fill="#007898"/>
<rect x="1799" y="366" width="3" height="56" fill="#e2003c"/>
<rect x="1806" y="395" width="3" height="38" fill="#007898"/>
<rect x="1815" y="431" width="2" height="46" fill="#e2003c"/>
<rect x="1843" y="69" width="5" height="2" fill="#000"/>
<rect x="1840" y="71" width="3" height="2" fill="#000"/>
<rect x="1848" y="71" width="2" height="6" fill="#000"/>
<rect x="1845" y="77" width="3" height="2" fill="#000"/>
<rect x="1843" y="79" width="2" height="1" fill="#000"/>
<rect x="1840" y="80" width="3" height="2" fill="#000"/>
<rect x="1840" y="82" width="10" height="2" fill="#000"/>
<rect x="1858" y="69" width="5" height="2" fill="#000"/>
<rect x="1855" y="71" width="3" height="2" fill="#000"/>
<rect x="1863" y="71" width="2" height="6" fill="#000"/>
<rect x="1860" y="77" width="3" height="2" fill="#000"/>
<rect x="1858" y="79" width="2" height="1" fill="#000"/>
<rect x="1855" y="80" width="3" height="2" fill="#000"/>
<rect x="1855" y="82" width="10" height="2" fill="#000"/>
<rect x="1843" y="145" width="5" height="2" fill="#000"/>
<rect x="1840" y="147" width="3" height="2" fill="#000"/>
<rect x="1848" y="147" width="2" height="6" fill="#000"/>
<rect x="1845" y="153" width="3" height="2" fill="#000"/>
<rect x="1843" y="155" width="2" height="1" fill="#000"/>
<rect x="1840" y="156" width="3" height="2" fill="#000"/>
<rect x="1840" y="158" width="10" height="2" fill="#000"/>
<rect x="1855" y="147" width="3" height="2" fill="#000"/>
<rect x="1858" y="145" width="2" height="13" fill="#000"/>
<rect x="1855" y="158" width="8" height="2" fill="#000"/>
<rect x="1843" y="233" width="5" height="2" fill="#000"/>
<rect x="1840" y="235" width="3" height="2" fill="#000"/>
<rect x="1848" y="235" width="2" height="6" fill="#000"/>
<rect x="1845" y="241" width="3" height="2" fill="#000"/>
<rect x="1843" y="243" width="2" height="1" fill="#000"/>
<rect x="1840" y="244" width="3" height="2" fill="#000"/>
<rect x="1840" y="246" width="10" height="2" fill="#000"/>
<rect x="1858" y="233" width="5" height="2" fill="#000"/>
<rect x="1855" y="235" width="3" height="11" fill="#000"/>
<rect x="1863" y="235" width="2" height="11" fill="#000"/>
<rect x="1858" y="246" width="5" height="2" fill="#000"/>
<rect x="1840" y="321" width="3" height="2" fill="#000"/>
<rect x="1843" y="319" width="2" height="13" fill="#000"/>
<rect x="1840" y="332" width="8" height="2" fill="#000"/>
<rect x="1858" y="319" width="5" height="1" fill="#000"/>
<rect x="1855" y="320" width="3" height="6" fill="#000"/>
<rect x="1863" y="320" width="2" height="12" fill="#000"/>
<rect x="1858" y="326" width="5" height="2" fill="#000"/>
<rect x="1855" y="332" width="8" height="2" fill="#000"/>
<rect x="1840" y="408" width="3" height="2" fill="#000"/>
<rect x="1843" y="406" width="2" height="13" fill="#000"/>
<rect x="1840" y="419" width="8" height="2" fill="#000"/>
<rect x="1858" y="406" width="5" height="2" fill="#000"/>
<rect x="1855" y="408" width="3" height="4" fill="#000"/>
<rect x="1863" y="408" width="2" height="4" fill="#000"/>
<rect x="1858" y="412" width="5" height="2" fill="#000"/>
<rect x="1855" y="414" width="3" height="5" fill="#000"/>
<rect x="1863" y="414" width="2" height="5" fill="#000"/>
<rect x="1858" y="419" width="5" height="2" fill="#000"/>
<rect x="1840" y="496" width="3" height="2" fill="#000"/>
<rect x="1843" y="494" width="2" height="13" fill="#000"/>
<rect x="1840" y="507" width="8" height="2" fill="#000"/>
<rect x="1855" y="494" width="10" height="2" fill="#000"/>
<rect x="1863" y="496" width="2" height="2" fill="#000"/>
<rect x="1860" y="498" width="3" height="4" fill="#000"/>
<rect x="1858" y="502" width="2" height="3" fill="#000"/>
<rect x="1855" y="505" width="3" height="4" fill="#000"/>
<rect x="1840" y="582" width="3" height="2" fill="#000"/>
<rect x="1843" y="580" width="2" height="13" fill="#000"/>
<rect x="1840" y="593" width="8" height="2" fill="#000"/>
<rect x="1858" y="580" width="7" height="2" fill="#000"/>
<rect x="1855" y="582" width="3" height="11" fill="#000"/>
<rect x="1858" y="586" width="5" height="1" fill="#000"/>
<rect x="1863" y="587" width="2" height="6" fill="#000"/>
<rect x="1858" y="593" width="5" height="2" fill="#000"/>
<rect x="1840" y="670" width="3" height="2" fill="#000"/>
<rect x="1843" y="668" width="2" height="13" fill="#000"/>
<rect x="1840" y="681" width="8" height="2" fill="#000"/>
<rect x="1855" y="668" width="10" height="2" fill="#000"/>
<rect x="1855" y="670" width="3" height="3" fill="#000"/>
<rect x="1855" y="673" width="8" height="2" fill="#000"/>
<rect x="1863" y="675" width="2" height="6" fill="#000"/>
<rect x="1855" y="681" width="8" height="2" fill="#000"/>
<rect x="1840" y="757" width="3" height="2" fill="#000"/>
<rect x="1843" y="755" width="2" height="13" fill="#000"/>
<rect x="1840" y="768" width="8" height="2" fill="#000"/>
<rect x="1860" y="755" width="3" height="15" fill="#000"/>
<rect x="1858" y="757" width="2" height="4" fill="#000"/>
<rect x="1855" y="761" width="3" height="2" fill="#000"/>
<rect x="1853" y="763" width="2" height="4" fill="#000"/>
<rect x="1853" y="765" width="12" height="2" fill="#000"/>
<rect x="140" y="780" width="5" height="2" fill="#111"/>
<rect x="137" y="782" width="3" height="2" fill="#111"/>
<rect x="145" y="782" width="2" height="6" fill="#111"/>
<rect x="142" y="788" width="3" height="2" fill="#111"/>
<rect x="140" y="790" width="2" height="1" fill="#111"/>
<rect x="137" y="791" width="3" height="2" fill="#111"/>
<rect x="137" y="793" width="10" height="2" fill="#111"/>
<rect x="156" y="780" width="5" height="2" fill="#111"/>
<rect x="153" y="782" width="3" height="11" fill="#111"/>
<rect x="161" y="782" width="2" height="11" fill="#111"/>
<rect x="156" y="793" width="5" height="2" fill="#111"/>
<rect x="171" y="780" width="5" height="2" fill="#111"/>
<rect x="168" y="782" width="3" height="2" fill="#111"/>
<rect x="176" y="782" width="2" height="6" fill="#111"/>
<rect x="173" y="788" width="3" height="2" fill="#111"/>
<rect x="171" y="790" width="2" height="1" fill="#111"/>
<rect x="168" y="791" width="3" height="2" fill="#111"/>
<rect x="168" y="793" width="10" height="2" fill="#111"/>
<rect x="188" y="780" width="3" height="15" fill="#111"/>
<rect x="186" y="782" width="2" height="4" fill="#111"/>
<rect x="183" y="786" width="3" height="2" fill="#111"/>
<rect x="181" y="788" width="2" height="4" fill="#111"/>
<rect x="181" y="790" width="12" height="2" fill="#111"/>
<rect x="204" y="780" width="2" height="6" fill="#111"/>
<rect x="201" y="786" width="3" height="6" fill="#111"/>
<rect x="199" y="792" width="2" height="5" fill="#111"/>
<rect x="216" y="780" width="3" height="15" fill="#111"/>
<rect x="214" y="782" width="2" height="4" fill="#111"/>
<rect x="211" y="786" width="3" height="2" fill="#111"/>
<rect x="209" y="788" width="2" height="4" fill="#111"/>
<rect x="209" y="790" width="12" height="2" fill="#111"/>
<rect x="591" y="780" width="5" height="2" fill="#111"/>
<rect x="588" y="782" width="3" height="2" fill="#111"/>
<rect x="596" y="782" width="2" height="6" fill="#111"/>
<rect x="593" y="788" width="3" height="2" fill="#111"/>
<rect x="591" y="790" width="2" height="1" fill="#111"/>
<rect x="588" y="791" width="3" height="2" fill="#111"/>
<rect x="588" y="793" width="10" height="2" fill="#111"/>
<rect x="606" y="780" width="5" height="2" fill="#111"/>
<rect x="603" y="782" width="3" height="11" fill="#111"/>
<rect x="611" y="782" width="2" height="11" fill="#111"/>
<rect x="606" y="793" width="5" height="2" fill="#111"/>
<rect x="621" y="780" width="5" height="2" fill="#111"/>
<rect x="618" y="782" width="3" height="2" fill="#111"/>
<rect x="626" y="782" width="2" height="6" fill="#111"/>
<rect x="623" y="788" width="3" height="2" fill="#111"/>
<rect x="621" y="790" width="2" height="1" fill="#111"/>
<rect x="618" y="791" width="3" height="2" fill="#111"/>
<rect x="618" y="793" width="10" height="2" fill="#111"/>
<rect x="638" y="780" width="3" height="15" fill="#111"/>
<rect x="636" y="782" width="2" height="4" fill="#111"/>
<rect x="633" y="786" width="3" height="2" fill="#111"/>
<rect x="631" y="788" width="2" height="4" fill="#111"/>
<rect x="631" y="790" width="12" height="2" fill="#111"/>
<rect x="654" y="780" width="2" height="6" fill="#111"/>
<rect x="651" y="786" width="3" height="6" fill="#111"/>
<rect x="649" y="792" width="2" height="5" fill="#111"/>
<rect x="662" y="780" width="10" height="2" fill="#111"/>
<rect x="670" y="782" width="2" height="2" fill="#111"/>
<rect x="667" y="784" width="3" height="4" fill="#111"/>
<rect x="665" y="788" width="2" height="3" fill="#111"/>
<rect x="662" y="791" width="3" height="4" fill="#111"/>
<rect x="1039" y="780" width="5" height="2" fill="#111"/>
<rect x="1036" y="782" width="3" height="2" fill="#111"/>
<rect x="1044" y="782" width="2" height="6" fill="#111"/>
<rect x="1041" y="788" width="3" height="2" fill="#111"/>
<rect x="1039" y="790" width="2" height="1" fill="#111"/>
<rect x="1036" y="791" width="3" height="2" fill="#111"/>
<rect x="1036" y="793" width="10" height="2" fill="#111"/>
<rect x="1054" y="780" width="5" height="2" fill="#111"/>
<rect x="1051" y="782" width="3" height="11" fill="#111"/>
<rect x="1059" y="782" width="2" height="11" fill="#111"/>
<rect x="1054" y="793" width="5" height="2" fill="#111"/>
<rect x="1069" y="780" width="5" height="2" fill="#111"/>
<rect x="1066" y="782" width="3" height="2" fill="#111"/>
<rect x="1074" y="782" width="2" height="6" fill="#111"/>
<rect x="1071" y="788" width="3" height="2" fill="#111"/>
<rect x="1069" y="790" width="2" height="1" fill="#111"/>
<rect x="1066" y="791" width="3" height="2" fill="#111"/>
<rect x="1066" y="793" width="10" height="2" fill="#111"/>
<rect x="1086" y="780" width="3" height="15" fill="#111"/>
<rect x="1084" y="782" width="2" height="4" fill="#111"/>
<rect x="1081" y="786" width="3" height="2" fill="#111"/>
<rect x="1079" y="788" width="2" height="4" fill="#111"/>
<rect x="1079" y="790" width="12" height="2" fill="#111"/>
<rect x="1102" y="780" width="2" height="6" fill="#111"/>
<rect x="1099" y="786" width="3" height="6" fill="#111"/>
<rect x="1097" y="792" width="2" height="5" fill="#111"/>
<rect x="1110" y="782" width="3" height="2" fill="#111"/>
<rect x="1113" y="780" width="2" height="13" fill="#111"/>
<rect x="1110" y="793" width="8" height="2" fill="#111"/>
<rect x="1128" y="780" width="5" height="2" fill="#111"/>
<rect x="1125" y="782" width="3" height="11" fill="#111"/>
<rect x="1133" y="782" width="2" height="11" fill="#111"/>
<rect x="1128" y="793" width="5" height="2" fill="#111"/>
<rect x="1505" y="780" width="5" height="2" fill="#111"/>
<rect x="1502" y="782" width="3" height="2" fill="#111"/>
<rect x="1510" y="782" width="2" height="6" fill="#111"/>
<rect x="1507" y="788" width="3" height="2" fill="#111"/>
<rect x="1505" y="790" width="2" height="1" fill="#111"/>
<rect x="1502" y="791" width="3" height="2" fill="#111"/>
<rect x="1502" y="793" width="10" height="2" fill="#111"/>
<rect x="1520" y="780" width="5" height="2" fill="#111"/>
<rect x="1517" y="782" width="3" height="11" fill="#111"/>
<rect x="1525" y="782" width="2" height="11" fill="#111"/>
<rect x="1520" y="793" width="5" height="2" fill="#111"/>
<rect x="1535" y="780" width="5" height="2" fill="#111"/>
<rect x="1532" y="782" width="3" height="2" fill="#111"/>
<rect x="1540" y="782" width="2" height="6" fill="#111"/>
<rect x="1537" y="788" width="3" height="2" fill="#111"/>
<rect x="1535" y="790" width="2" height="1" fill="#111"/>
<rect x="1532" y="791" width="3" height="2" fill="#111"/>
<rect x="1532" y="793" width="10" height="2" fill="#111"/>
<rect x="1547" y="780" width="10" height="2" fill="#111"/>
<rect x="1547" y="782" width="3" height="3" fill="#111"/>
<rect x="1547" y="785" width="8" height="2" fill="#111"/>
<rect x="1555" y="787" width="2" height="6" fill="#111"/>
<rect x="1547" y="793" width="8" height="2" fill="#111"/>
<rect x="1568" y="780" width="2" height="6" fill="#111"/>
<rect x="1565" y="786" width="3" height="6" fill="#111"/>
<rect x="1563" y="792" width="2" height="5" fill="#111"/>
<rect x="1575" y="782" width="3" height="2" fill="#111"/>
<rect x="1578" y="780" width="2" height="13" fill="#111"/>
<rect x="1575" y="793" width="8" height="2" fill="#111"/>
<rect x="1741" y="805" width="10" height="2" fill="#606060"/>
<rect x="1738" y="807" width="3" height="2" fill="#606060"/>
<rect x="1751" y="807" width="2" height="2" fill="#606060"/>
<rect x="1736" y="809" width="2" height="7" fill="#606060"/>
<rect x="1753" y="809" width="3" height="7" fill="#606060"/>
<rect x="1738" y="816" width="3" height="2" fill="#606060"/>
<rect x="1751" y="816" width="2" height="2" fill="#606060"/>
<rect x="1741" y="818" width="10" height="2" fill="#606060"/>
<rect x="1743" y="809" width="5" height="2" fill="#606060"/>
<rect x="1741" y="811" width="2" height="3" fill="#606060"/>
<rect x="1743" y="814" width="5" height="2" fill="#606060"/>
<rect x="1769" y="805" width="2" height="15" fill="#606060"/>
<rect x="1771" y="805" width="5" height="2" fill="#606060"/>
<rect x="1776" y="807" width="3" height="6" fill="#606060"/>
<rect x="1771" y="813" width="5" height="1" fill="#606060"/>
<rect x="1774" y="814" width="2" height="2" fill="#606060"/>
<rect x="1776" y="816" width="3" height="2" fill="#606060"/>
<rect x="1779" y="818" width="2" height="2" fill="#606060"/>
<rect x="1787" y="809" width="5" height="2" fill="#606060"/>
<rect x="1784" y="811" width="3" height="7" fill="#606060"/>
<rect x="1792" y="811" width="2" height="3" fill="#606060"/>
<rect x="1787" y="813" width="7" height="1" fill="#606060"/>
<rect x="1787" y="818" width="7" height="2" fill="#606060"/>
<rect x="1799" y="807" width="3" height="13" fill="#606060"/>
<rect x="1802" y="805" width="5" height="2" fill="#606060"/>
<rect x="1797" y="809" width="2" height="2" fill="#606060"/>
<rect x="1802" y="809" width="2" height="2" fill="#606060"/>
<rect x="1809" y="805" width="3" height="2" fill="#606060"/>
<rect x="1809" y="809" width="3" height="11" fill="#606060"/>
<rect x="1817" y="809" width="3" height="11" fill="#606060"/>
<rect x="1820" y="811" width="2" height="2" fill="#606060"/>
<rect x="1822" y="809" width="3" height="2" fill="#606060"/>
<rect x="1825" y="811" width="2" height="9" fill="#606060"/>
<rect x="1832" y="805" width="3" height="2" fill="#606060"/>
<rect x="1832" y="809" width="3" height="11" fill="#606060"/>
<rect x="1840" y="807" width="3" height="11" fill="#606060"/>
<rect x="1837" y="809" width="8" height="2" fill="#606060"/>
<rect x="1843" y="818" width="2" height="2" fill="#606060"/>
<rect x="1850" y="805" width="3" height="2" fill="#606060"/>
<rect x="1850" y="809" width="3" height="11" fill="#606060"/>
<rect x="1855" y="809" width="3" height="4" fill="#606060"/>
<rect x="1858" y="813" width="2" height="5" fill="#606060"/>
<rect x="1860" y="818" width="3" height="2" fill="#606060"/>
<rect x="1863" y="813" width="2" height="5" fill="#606060"/>
<rect x="1865" y="809" width="3" height="4" fill="#606060"/>
<rect x="38" y="21" width="3" height="21" fill="#ffe0a0"/>
<rect x="43" y="23" width="2" height="19" fill="#e0ffff"/>
<rect x="59" y="23" width="2" height="19" fill="#ffffc8"/>
<rect x="64" y="21" width="2" height="21" fill="#c8ffff"/>
<rect x="41" y="21" width="2" height="21" fill="#10105a"/>
<rect x="61" y="21" width="3" height="21" fill="#480058"/>
<rect x="41" y="21" width="23" height="2" fill="#000"/>
<rect x="43" y="29" width="18" height="2" fill="#000"/>
<rect x="43" y="38" width="18" height="2" fill="#000"/>
<rect x="72" y="21" width="2" height="8" fill="#fffbe0"/>
<rect x="76" y="23" width="2" height="4" fill="#90d8ff"/>
<rect x="95" y="23" width="2" height="4" fill="#ffb860"/>
<rect x="74" y="21" width="25" height="2" fill="#000"/>
<rect x="74" y="21" width="2" height="8" fill="#7a1010"/>
<rect x="97" y="21" width="2" height="8" fill="#0a58c8"/>
<rect x="74" y="27" width="25" height="2" fill="#000"/>
<rect x="84" y="29" width="3" height="13" fill="#e09030"/>
<rect x="87" y="29" width="2" height="13" fill="#2a86f0"/>
<rect x="89" y="32" width="10" height="2" fill="#000"/>
<rect x="99" y="32" width="2" height="2" fill="#c8ffff"/>
<rect x="81" y="40" width="21" height="2" fill="#000"/>
<rect x="84" y="40" width="3" height="2" fill="#a05010"/>
<rect x="102" y="40" width="1" height="2" fill="#d0ffff"/>
<rect x="75" y="31" width="2" height="6" fill="#ffd890"/>
<rect x="77" y="31" width="2" height="6" fill="#2040a0"/>
<rect x="79" y="31" width="2" height="5" fill="#d8ffff"/>
<rect x="74" y="37" width="3" height="2" fill="#c06010"/>
<rect x="77" y="37" width="2" height="2" fill="#303030"/>
<rect x="79" y="37" width="2" height="2" fill="#1a60d0"/>
<rect x="71" y="39" width="3" height="3" fill="#0a1a80"/>
<rect x="69" y="40" width="2" height="2" fill="#ffa040"/>
<rect x="81" y="39" width="2" height="2" fill="#ff9a30"/>
<rect x="1563" y="23" width="5" height="19" fill="#8a8a8a"/>
<rect x="1565" y="29" width="14" height="2" fill="#000"/>
<rect x="1552" y="42" width="28" height="2" fill="#000"/>
<rect x="1583" y="25" width="5" height="19" fill="#888"/>
<rect x="1586" y="25" width="5" height="2" fill="#000"/>
<rect x="1586" y="29" width="11" height="2" fill="#000"/>
<rect x="1586" y="32" width="8" height="2" fill="#000"/>
<rect x="1591" y="23" width="2" height="2" fill="#000"/>
<rect x="1583" y="38" width="6" height="2" fill="#000"/>
<rect x="1591" y="36" width="2" height="2" fill="#000"/>
<rect x="1594" y="23" width="12" height="2" fill="#222"/>
<rect x="1597" y="25" width="2" height="6" fill="#666"/>
<rect x="1604" y="25" width="2" height="6" fill="#555"/>
<rect x="1603" y="29" width="8" height="2" fill="#222"/>
<rect x="1596" y="32" width="12" height="2" fill="#000"/>
<rect x="1606" y="34" width="2" height="4" fill="#444"/>
<rect x="1598" y="36" width="3" height="2" fill="#222"/>
<rect x="1600" y="38" width="6" height="4" fill="#000"/>
<rect x="1593" y="42" width="5" height="2" fill="#222"/>
<rect x="1606" y="42" width="5" height="2" fill="#222"/>
<rect x="1614" y="29" width="6" height="2" fill="#555"/>
<rect x="1614" y="40" width="6" height="2" fill="#555"/>
</svg>
<div class="leg" style="left:1630px;color:#9a8a00;transform:scaleX(1.32)">SMA 50</div>
<div class="leg" style="left:1758px;color:#e84f7a;transform:scaleX(1.32)">SMA 200</div>
</body></html>
